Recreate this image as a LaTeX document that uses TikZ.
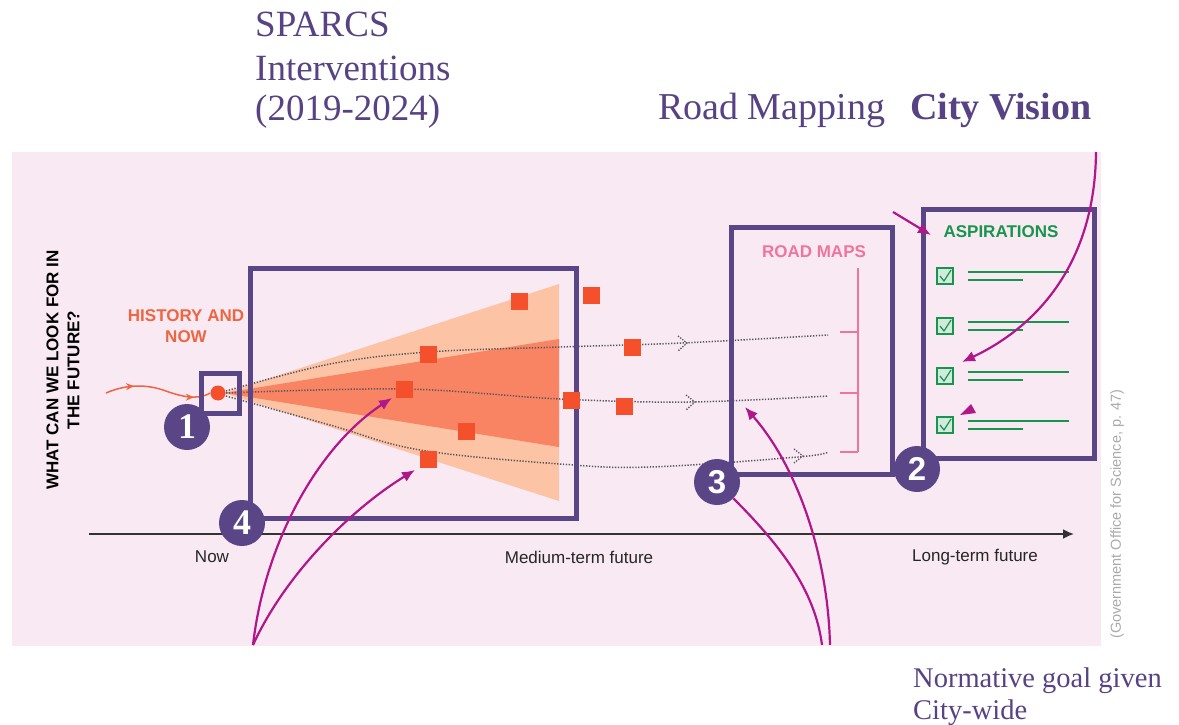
\documentclass[tikz,border=0pt]{standalone}
\usepackage{fontspec}
\setmainfont{Liberation Serif}
\setsansfont{Liberation Sans}
\usetikzlibrary{arrows.meta,decorations.markings}
\definecolor{bgpink}{HTML}{F9E9F3}
\definecolor{vio}{HTML}{5A4587}
\definecolor{vtext}{HTML}{574383}
\definecolor{mag}{HTML}{B0178A}
\definecolor{lightcone}{HTML}{FDC3A5}
\definecolor{darkcone}{HTML}{F98463}
\definecolor{sqc}{HTML}{F4502C}
\definecolor{hist}{HTML}{EE6640}
\definecolor{rmpink}{HTML}{F0759C}
\definecolor{asgreen}{HTML}{17954F}
\definecolor{citec}{HTML}{AAAAAA}
\definecolor{dotc}{HTML}{55555E}
\tikzset{
  box/.style={draw=vio, line width=5pt, rectangle, inner sep=0pt},
  numc/.style={circle, fill=vio, text=white, minimum size=46pt, inner sep=0pt, font=\fontsize{36}{36}\selectfont\bfseries},
  numcs/.style={numc, font=\sffamily\fontsize{33}{33}\selectfont\bfseries},
  sqr/.style={rectangle, fill=sqc, minimum size=17pt, inner sep=0pt},
  dotline/.style={draw=dotc, line width=1.5pt, dash pattern=on 1.3pt off 1.6pt},
  chev/.style={draw=dotc, line width=1.3pt, dash pattern=on 1.3pt off 1.4pt},
  magarrow/.style={draw=mag, line width=2.2pt, -{Latex[length=13pt,width=11pt]}},
  magline/.style={draw=mag, line width=2.2pt},
  title/.style={text=vtext, anchor=base west, inner sep=0pt, font=\fontsize{37}{44}\selectfont},
  axlab/.style={font=\sffamily\fontsize{17}{20}\selectfont, text=black!85},
  caps/.style={font=\sffamily\bfseries\fontsize{17}{21}\selectfont, align=center},
  chk/.style={rectangle, draw=asgreen, fill=asgreen!20, line width=1.3pt, minimum size=16pt, inner sep=0pt},
  gline/.style={draw=asgreen, line width=2.6pt},
}
\begin{document}
\begin{tikzpicture}[x=1pt,y=-1pt]
\useasboundingbox (0,0) rectangle (1179,725);
% background
\fill[bgpink] (12,152) rectangle (1101,646);

% titles
\node[title] (t1) at (255,37) {SPARCS};
\node[title] (t2) at (255,81) {Interventions};
\node[title] (t3) at (255,121) {(2019-2024)};
\node[title, font=\fontsize{38}{44}\selectfont] (rm) at (658,120) {Road Mapping};
\node[title, font=\fontsize{38}{44}\selectfont\bfseries] (cv) at (910,120) {City Vision};
\node[title, font=\fontsize{28.5}{32}\selectfont] (ng1) at (913,687) {Normative goal given};
\node[title, font=\fontsize{28.5}{32}\selectfont] (ng2) at (913,719) {City-wide};

% cone
\fill[lightcone] (224,393) -- (559,284) -- (559,501) -- cycle;
\fill[darkcone] (224,393) -- (559,339) -- (559,447) -- cycle;

% dotted trajectories
\draw[dotline] plot[smooth, tension=0.6] coordinates {(226,391) (330,364) (428,352) (560,347) (682,343) (828,335)};
\draw[dotline] plot[smooth, tension=0.6] coordinates {(226,393) (404,389) (560,399) (690,402) (828,396)};
\draw[dotline] plot[smooth, tension=0.6] coordinates {(226,396) (330,425) (420,450) (560,464) (650,467) (798,457) (828,452)};
\draw[chev] (678,336) -- (687,343) -- (678,351);
\draw[chev] (686,395) -- (695,402) -- (686,410);
\draw[chev] (794,449) -- (803,456) -- (794,463);

% axis
\coordinate (ax0) at (89,534);
\coordinate (ax1) at (1074,534);
\draw[black!80, line width=1.8pt, -{Latex[length=11pt,width=10pt]}] (ax0) -- (ax1);
\node[axlab] (now) at (212,557) {Now};
\node[axlab] (mid) at (579,557) {Medium-term future};
\node[axlab] (long) at (975,557) {Long-term future};

% question
\node[caps, rotate=90] (q) at (63,370) {WHAT CAN WE LOOK FOR IN\\THE FUTURE?};
\node[caps, text=hist] (hn) at (186,326) {HISTORY AND\\NOW};

% history line and dot
\node[circle, fill=sqc, minimum size=15pt, inner sep=0pt] (dot) at (218,393) {};
\coordinate (hstart) at (106,393);
\draw[hist, line width=1.5pt, postaction={decorate},
  decoration={markings,
    mark=at position 0.27 with {\arrow{Stealth[length=8pt,width=7pt]}},
    mark=at position 0.84 with {\arrow{Stealth[length=8pt,width=7pt]}}}]
  (hstart) .. controls (122,386) and (142,383) .. (163,390)
  .. controls (180,396) and (196,401) .. (dot.west);

% boxes
\node[box, minimum width=38pt, minimum height=40pt] (b1) at (220,393) {};
\node[box, minimum width=326pt, minimum height=250pt] (b4) at (413,393) {};
\node[box, minimum width=161pt, minimum height=247pt] (b3) at (811.5,350.5) {};
\node[box, minimum width=171pt, minimum height=249pt] (b2) at (1008.5,333.5) {};

% squares
\foreach \p [count=\i] in {(519,301),(591,295),(428,354),(632,347),(404,389),(571,400),(624,406),(466,431),(428,459)}
  \node[sqr] (s\i) at \p {};

% road maps
\node[caps, text=rmpink] (rmt) at (814,252) {ROAD MAPS};
\draw[rmpink, line width=1.4pt] (858,268) -- (858,452);
\foreach \y in {332,393,452} \draw[rmpink, line width=1.4pt] (840,\y) -- (858,\y);

% aspirations
\node[caps, text=asgreen] (ast) at (1001,232) {ASPIRATIONS};
\foreach \y [count=\i] in {276,326,376,425} {
  \node[chk] (c\i) at (945,\y) {};
  \draw[asgreen, line width=1.2pt] ([shift={(-5,0)}]c\i.center) -- ([shift={(-1,5)}]c\i.center) -- ([shift={(6,-6)}]c\i.center);
  \draw[gline] (968,\y-4) -- (1069,\y-4);
  \draw[gline] (968,\y+4) -- (1023,\y+4);
}

% number circles
\node[numc] (n1) at (187,427) {1};
\node[numc] (n4) at (242,523) {4};
\node[numcs] (n3) at (717,482) {3};
\node[numcs] (n2) at (917,469) {2};

% citation
\node[rotate=90, text=citec, font=\sffamily\fontsize{14.5}{16}\selectfont] (cite) at (1117,514) {(Government Office for Science, p. 47)};

% magenta arrows
\coordinate (bl) at (253,645);
\coordinate (br1) at (830,645);
\coordinate (br2) at (822,645);
\coordinate (tip1) at (392,398);
\coordinate (tip2) at (415,470);
\coordinate (tip3) at (745,407);
\coordinate (topst) at (1096,152);
\coordinate (tip4) at (962,362);
\coordinate (sa0) at (893,212);
\coordinate (sa1) at (931,235);
\draw[magarrow] (bl) .. controls (265,540) and (320,445) .. (tip1);
\draw[magarrow] (bl) .. controls (285,575) and (350,510) .. (tip2);
\draw[magarrow] (br1) .. controls (828,560) and (800,470) .. (tip3);
\draw[magline] (br2) .. controls (815,590) and (780,545) .. (n3);
\draw[magarrow] (topst) .. controls (1095,270) and (1030,330) .. (tip4);
\draw[magarrow] (sa0) -- (sa1);
\fill[mag] (960,415) -- (971,404) -- (976,413) -- cycle;
\end{tikzpicture}
\end{document}
